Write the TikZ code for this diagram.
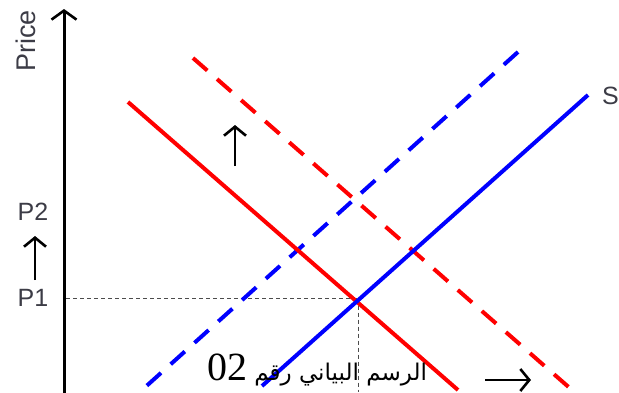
\documentclass[tikz,border=0pt]{standalone}
\usepackage{fontspec}
\setmainfont{Liberation Serif}
\newfontfamily\labfont{Liberation Sans}
\newfontfamily\arabicfont[Script=Arabic]{DejaVu Sans}
\TeXXeTstate=1
\usetikzlibrary{arrows.meta}
\definecolor{txtgray}{RGB}{60,60,70}
\definecolor{myred}{RGB}{255,0,0}
\definecolor{myblue}{RGB}{0,0,255}
\tikzset{
  lab/.style={font=\labfont\fontsize{25}{27}\selectfont, text=txtgray, inner sep=0pt},
  curve/.style={line width=4pt},
  dashcurve/.style={line width=4pt, dash pattern=on 19pt off 13pt},
  guide/.style={line width=0.8pt, dash pattern=on 4pt off 3pt, draw=black!70},
  shiftarrow/.style={line width=2.8pt, -{Straight Barb[length=9pt,width=22pt,line width=2.6pt]}},
}
\begin{document}
\begin{tikzpicture}[x=1pt,y=-1pt]
\useasboundingbox (0,0) rectangle (619,392);
% coordinates
\coordinate (ax0) at (64,395);
\coordinate (ax1) at (64,9);
\coordinate (d0) at (128,102);
\coordinate (d1) at (458,390);
\coordinate (s0) at (262,386);
\coordinate (s1) at (588,95);
\coordinate (dd0) at (193,58);
\coordinate (dd1) at (572,390);
\coordinate (sd0) at (142,390);
\coordinate (sd1) at (518,52);
\coordinate (eq) at (358,298.5);
\coordinate (p1end) at (66,298.5);
\coordinate (eqbot) at (358,392);
% guides
\draw[guide] (p1end) -- (eq);
\draw[guide] (eq) -- (eqbot);
% curves
\draw[dashcurve, draw=myred] (dd0) -- (dd1);
\draw[dashcurve, draw=myblue] (sd1) -- (sd0);
\draw[curve, draw=myred] (d0) -- (d1);
\draw[curve, draw=myblue] (s0) -- (s1);
% axis
\draw[line width=3pt, -{Straight Barb[length=9pt,width=25pt,line width=2.6pt]}] (ax0) -- (ax1);
% labels
\node[lab, rotate=90, font=\labfont\fontsize{27}{29}\selectfont] (price) at (26,41) {Price};
\node[lab] (p2) at (33,212) {P2};
\node[lab] (p1) at (33,298) {P1};
\node[lab, anchor=west] (s) at (602,96) {S};
% arrows
\coordinate (a1s) at (35,280);
\coordinate (a1e) at (35,236);
\draw[shiftarrow] (a1s) -- (a1e);
\coordinate (a2s) at (235,166);
\coordinate (a2e) at (235,125);
\draw[shiftarrow] (a2s) -- (a2e);
\coordinate (a3s) at (485,380);
\coordinate (a3e) at (531,380);
\draw[shiftarrow] (a3s) -- (a3e);
% caption
\node[inner sep=0pt, anchor=base] (cap) at (317,380) {\arabicfont\fontsize{23}{26}\selectfont\beginR الرسم البياني رقم \beginL{\rmfamily\fontsize{40}{42}\selectfont 02}\endL\endR};
\end{tikzpicture}
\end{document}
